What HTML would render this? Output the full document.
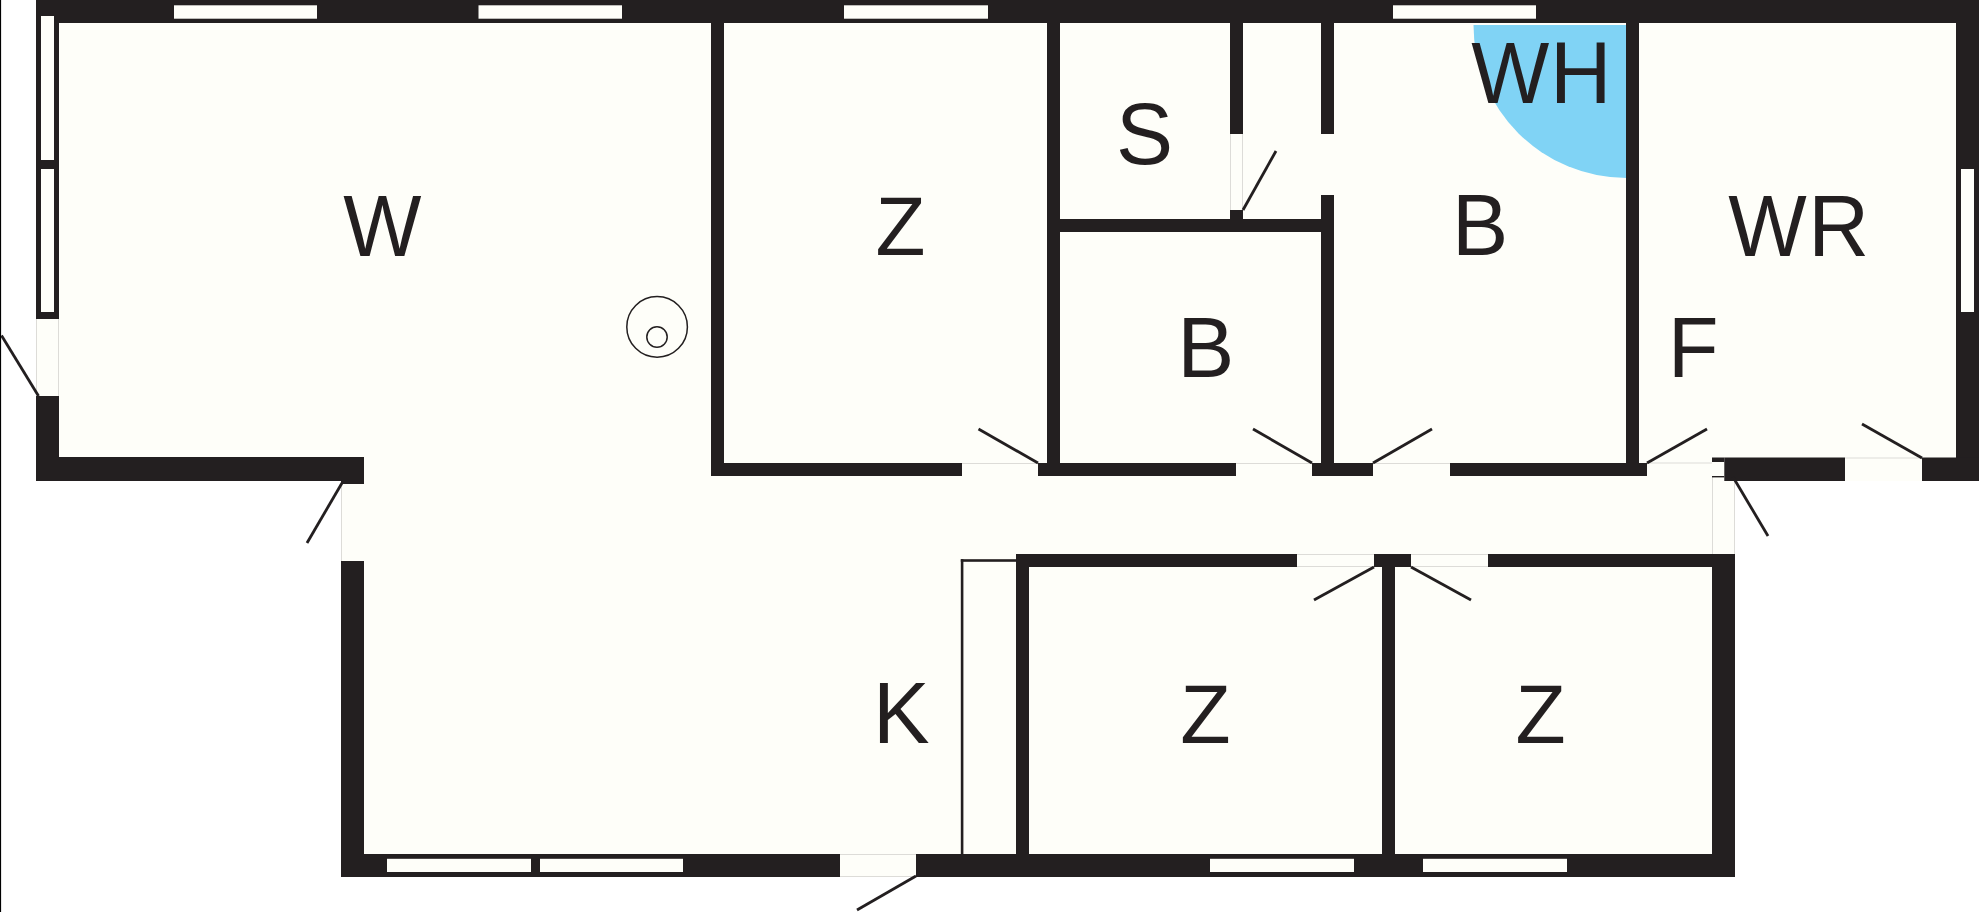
<!DOCTYPE html>
<html><head><meta charset="utf-8"><style>
html,body{margin:0;padding:0;background:#ffffff;width:1980px;height:912px;overflow:hidden}
svg{display:block;font-family:"Liberation Sans",sans-serif}
</style></head><body>
<svg width="1980" height="912" viewBox="0 0 1980 912">
<polygon points="36,0 1979,0 1979,481 1735,481 1735,877 341,877 341,481 36,481" fill="#fefef9"/>
<path d="M1626.5,25 L1473.5,25 A153,153 0 0 0 1626.5,178 Z" fill="#80d3f5"/>
<line x1="36.5" y1="319" x2="36.5" y2="396" stroke="#dddcd8" stroke-width="1"/>
<line x1="58.5" y1="319" x2="58.5" y2="396" stroke="#dddcd8" stroke-width="1"/>
<line x1="341.5" y1="484" x2="341.5" y2="561" stroke="#dddcd8" stroke-width="1"/>
<line x1="840" y1="854.5" x2="916" y2="854.5" stroke="#dddcd8" stroke-width="1"/>
<line x1="840" y1="876.5" x2="916" y2="876.5" stroke="#dddcd8" stroke-width="1"/>
<line x1="1297" y1="554.5" x2="1374" y2="554.5" stroke="#dddcd8" stroke-width="1"/>
<line x1="1297" y1="566.5" x2="1374" y2="566.5" stroke="#dddcd8" stroke-width="1"/>
<line x1="1411" y1="554.5" x2="1488" y2="554.5" stroke="#dddcd8" stroke-width="1"/>
<line x1="1411" y1="566.5" x2="1488" y2="566.5" stroke="#dddcd8" stroke-width="1"/>
<line x1="962" y1="463.5" x2="1038" y2="463.5" stroke="#dddcd8" stroke-width="1"/>
<line x1="1236" y1="463.5" x2="1312" y2="463.5" stroke="#dddcd8" stroke-width="1"/>
<line x1="1373" y1="463.5" x2="1450" y2="463.5" stroke="#dddcd8" stroke-width="1"/>
<line x1="1647" y1="463" x2="1712" y2="463" stroke="#dddcd8" stroke-width="1"/>
<line x1="1230.5" y1="134" x2="1230.5" y2="210" stroke="#dddcd8" stroke-width="1"/>
<line x1="1242.5" y1="134" x2="1242.5" y2="210" stroke="#dddcd8" stroke-width="1"/>
<line x1="1845" y1="458" x2="1922" y2="458" stroke="#dddcd8" stroke-width="1"/>
<line x1="1712.5" y1="477" x2="1712.5" y2="554" stroke="#dddcd8" stroke-width="1"/>
<line x1="1734.5" y1="481" x2="1734.5" y2="554" stroke="#dddcd8" stroke-width="1"/>
<rect x="36" y="0" width="1943" height="23" fill="#231f20"/>
<rect x="174" y="5.3" width="143" height="13.4" fill="#fefef9"/>
<rect x="478.5" y="5.3" width="143.5" height="13.4" fill="#fefef9"/>
<rect x="844" y="5.3" width="144" height="13.4" fill="#fefef9"/>
<rect x="1393" y="5.3" width="143" height="13.4" fill="#fefef9"/>
<rect x="36" y="0" width="23" height="319" fill="#231f20"/>
<rect x="41" y="16" width="13" height="144" fill="#fefef9"/>
<rect x="41" y="169" width="13" height="143" fill="#fefef9"/>
<rect x="36" y="396" width="23" height="85" fill="#231f20"/>
<rect x="36" y="457" width="328" height="24" fill="#231f20"/>
<rect x="341" y="457" width="23" height="27" fill="#231f20"/>
<rect x="341" y="561" width="23" height="316" fill="#231f20"/>
<rect x="341" y="854" width="499" height="23" fill="#231f20"/>
<rect x="916" y="854" width="819" height="23" fill="#231f20"/>
<rect x="387" y="858.8" width="144" height="13.2" fill="#fefef9"/>
<rect x="540" y="858.8" width="143" height="13.2" fill="#fefef9"/>
<rect x="1210" y="858.8" width="144" height="13.2" fill="#fefef9"/>
<rect x="1423" y="858.8" width="144" height="13.2" fill="#fefef9"/>
<rect x="1712" y="554" width="23" height="323" fill="#231f20"/>
<rect x="1016" y="554" width="281" height="13" fill="#231f20"/>
<rect x="1374" y="554" width="37" height="13" fill="#231f20"/>
<rect x="1488" y="554" width="247" height="13" fill="#231f20"/>
<rect x="1016" y="554" width="13" height="323" fill="#231f20"/>
<rect x="1382" y="554" width="13" height="323" fill="#231f20"/>
<rect x="711" y="23" width="13" height="453" fill="#231f20"/>
<rect x="711" y="463" width="251" height="13" fill="#231f20"/>
<rect x="1038" y="463" width="198" height="13" fill="#231f20"/>
<rect x="1312" y="463" width="61" height="13" fill="#231f20"/>
<rect x="1450" y="463" width="197" height="13" fill="#231f20"/>
<rect x="1047" y="23" width="13" height="453" fill="#231f20"/>
<rect x="1230" y="23" width="13" height="111" fill="#231f20"/>
<rect x="1230" y="210" width="13" height="9" fill="#231f20"/>
<rect x="1047" y="219" width="287" height="13" fill="#231f20"/>
<rect x="1321" y="23" width="13" height="111" fill="#231f20"/>
<rect x="1321" y="195" width="13" height="281" fill="#231f20"/>
<rect x="1626" y="23" width="13" height="453" fill="#231f20"/>
<rect x="1956" y="0" width="23" height="481" fill="#231f20"/>
<rect x="1961" y="169" width="13" height="143" fill="#fefef9"/>
<rect x="1724.3" y="457.5" width="120.7" height="23.5" fill="#231f20"/>
<rect x="1922" y="457.5" width="57" height="23.5" fill="#231f20"/>
<rect x="1712" y="457.5" width="12.3" height="4.5" fill="#231f20"/>
<rect x="1712" y="476" width="12.3" height="1.4" fill="#231f20"/>
<rect x="960.8" y="559.2" width="55.2" height="2.6" fill="#231f20"/>
<rect x="960.8" y="559.2" width="2.6" height="294.8" fill="#231f20"/>
<line x1="1.5" y1="335.5" x2="38.5" y2="396" stroke="#231f20" stroke-width="2.8"/>
<line x1="342" y1="483" x2="307" y2="543" stroke="#231f20" stroke-width="2.8"/>
<line x1="916" y1="876" x2="857" y2="910" stroke="#231f20" stroke-width="2.8"/>
<line x1="1374" y1="567" x2="1314" y2="600" stroke="#231f20" stroke-width="2.8"/>
<line x1="1411" y1="567" x2="1471" y2="600" stroke="#231f20" stroke-width="2.8"/>
<line x1="1038" y1="463" x2="978.5" y2="429" stroke="#231f20" stroke-width="2.8"/>
<line x1="1312" y1="463" x2="1253" y2="429" stroke="#231f20" stroke-width="2.8"/>
<line x1="1373" y1="463" x2="1432" y2="429" stroke="#231f20" stroke-width="2.8"/>
<line x1="1647" y1="463" x2="1707" y2="429" stroke="#231f20" stroke-width="2.8"/>
<line x1="1243" y1="210" x2="1276" y2="151" stroke="#231f20" stroke-width="2.8"/>
<line x1="1922" y1="458" x2="1862" y2="424" stroke="#231f20" stroke-width="2.8"/>
<line x1="1733" y1="477" x2="1768" y2="536" stroke="#231f20" stroke-width="2.8"/>
<circle cx="657.1" cy="326.9" r="30.3" fill="none" stroke="#231f20" stroke-width="1.5"/>
<circle cx="657" cy="337" r="10.2" fill="none" stroke="#231f20" stroke-width="1.5"/>
<rect x="0" y="0" width="1.1" height="912" fill="#000"/>
<text transform="translate(343.17,255.50) scale(0.8280,0.8725)" font-size="100" fill="#231f20">W</text>
<text transform="translate(875.55,255.30) scale(0.8182,0.8304)" font-size="100" fill="#231f20">Z</text>
<text transform="translate(1116.02,163.73) scale(0.8561,0.8676)" font-size="100" fill="#231f20">S</text>
<text transform="translate(1471.17,103.30) scale(0.8269,0.8739)" font-size="100" fill="#231f20">W</text>
<text transform="translate(1550.09,103.30) scale(0.8518,0.8739)" font-size="100" fill="#231f20">H</text>
<text transform="translate(1177.35,377.00) scale(0.8566,0.8609)" font-size="100" fill="#231f20">B</text>
<text transform="translate(1452.05,255.20) scale(0.8434,0.8652)" font-size="100" fill="#231f20">B</text>
<text transform="translate(1728.17,255.50) scale(0.8312,0.8725)" font-size="100" fill="#231f20">W</text>
<text transform="translate(1808.36,255.50) scale(0.8424,0.8725)" font-size="100" fill="#231f20">R</text>
<text transform="translate(1667.89,377.20) scale(0.8265,0.8609)" font-size="100" fill="#231f20">F</text>
<text transform="translate(872.91,743.20) scale(0.8491,0.8754)" font-size="100" fill="#231f20">K</text>
<text transform="translate(1180.22,743.00) scale(0.8255,0.8362)" font-size="100" fill="#231f20">Z</text>
<text transform="translate(1515.53,743.00) scale(0.8218,0.8362)" font-size="100" fill="#231f20">Z</text>
</svg>
</body></html>
